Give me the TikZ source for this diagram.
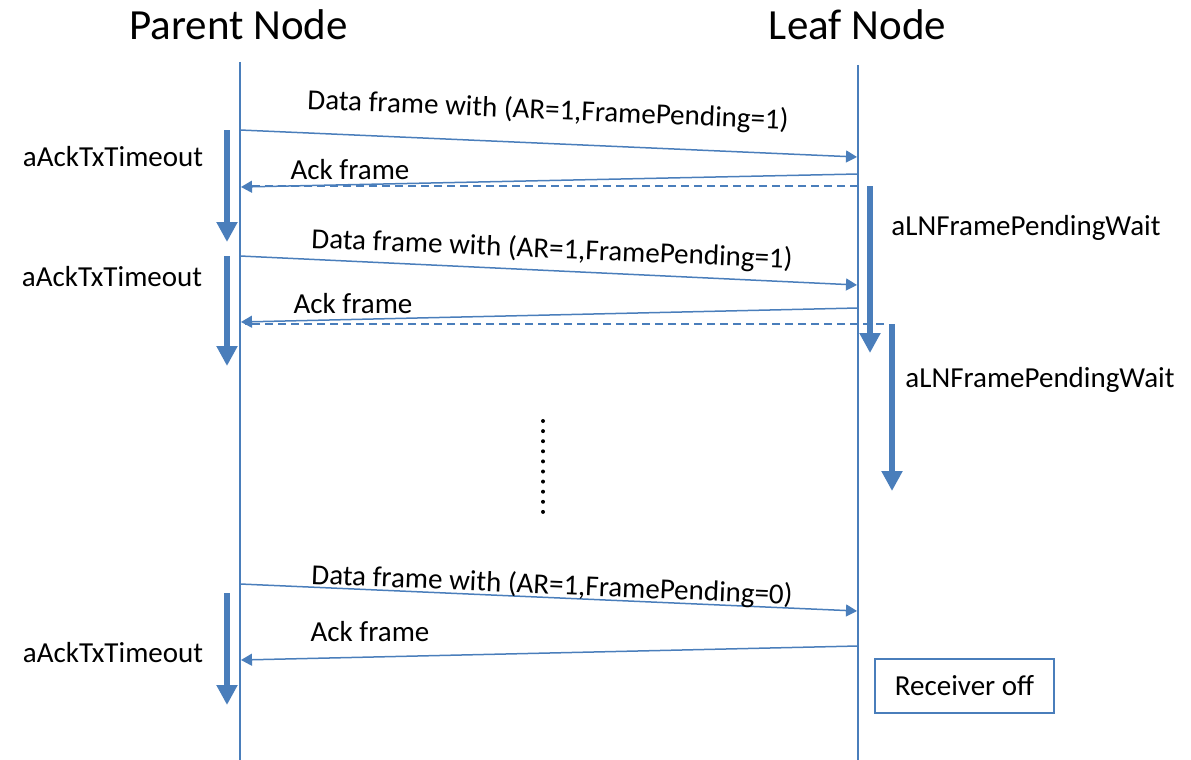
\documentclass[tikz,border=0pt]{standalone}
\usepackage{fontspec}
\setmainfont{Carlito}
\usetikzlibrary{arrows.meta}
\definecolor{seqblue}{HTML}{4A7EBB}
\tikzset{
  lifeline/.style={draw=seqblue, line width=1.3pt},
  msg/.style={draw=seqblue, line width=1.5pt, -{Triangle[length=11pt,width=12pt]}},
  msgdash/.style={draw=seqblue, line width=1.5pt, dash pattern=on 8pt off 5pt},
  timer/.style={draw=seqblue, line width=6pt, -{Triangle[length=20pt,width=20pt]}},
  title/.style={font=\fontsize{43}{50}\selectfont, anchor=base},
  lbl/.style={font=\fontsize{29}{34}\selectfont, inner sep=0pt},
  statebox/.style={draw=seqblue, line width=1.5pt, font=\fontsize{29}{34}\selectfont,
    minimum width=179pt, minimum height=54pt, inner sep=0pt},
  dotmark/.style={circle, fill=black, inner sep=0pt, minimum size=4pt}
}
\begin{document}
\begin{tikzpicture}[x=1pt,y=-1pt]
\useasboundingbox (0,0) rectangle (1191,760);

% participants
\node[title] (parent) at (238.5,40) {Parent Node};
\node[title] (leaf) at (857.5,40) {Leaf Node};

% lifelines
\coordinate (pTop) at (240,62);
\coordinate (pBot) at (240,760);
\coordinate (lTop) at (858,65);
\coordinate (lBot) at (858,760);
\draw[lifeline] (pTop) -- (pBot);
\draw[lifeline] (lTop) -- (lBot);

% message end points on the lifelines
\coordinate (d1s) at (240,130);  \coordinate (d1e) at (857,157);
\coordinate (a1s) at (858,174);  \coordinate (a1e) at (241,187);
\coordinate (k1s) at (858,186);  \coordinate (k1e) at (245,186);
\coordinate (d2s) at (240,256);  \coordinate (d2e) at (857,285);
\coordinate (a2s) at (858,308);  \coordinate (a2e) at (241,322);
\coordinate (k2s) at (884,324);  \coordinate (k2e) at (245,324);
\coordinate (d3s) at (240,584);  \coordinate (d3e) at (857,611);
\coordinate (a3s) at (858,646);  \coordinate (a3e) at (241,660);

% first exchange
\draw[msg] (d1s) -- (d1e);
\node[lbl, rotate=-2.4] (dl1) at (548,111) {Data frame with (AR=1,FramePending=1)};
\draw[msgdash] (k1s) -- (k1e);
\draw[msg] (a1s) -- (a1e);
\node[lbl] (al1) at (350,170) {Ack frame};

% second exchange
\draw[msg] (d2s) -- (d2e);
\node[lbl, rotate=-2.4] (dl2) at (552,250) {Data frame with (AR=1,FramePending=1)};
\draw[msgdash] (k2s) -- (k2e);
\draw[msg] (a2s) -- (a2e);
\node[lbl] (al2) at (353,304) {Ack frame};

% last exchange
\draw[msg] (d3s) -- (d3e);
\node[lbl, rotate=-2.4] (dl3) at (552,586) {Data frame with (AR=1,FramePending=0)};
\draw[msg] (a3s) -- (a3e);
\node[lbl] (al3) at (370,632) {Ack frame};

% parent timers
\coordinate (t1s) at (227,130); \coordinate (t1e) at (227,242);
\coordinate (t2s) at (227,256); \coordinate (t2e) at (227,366);
\coordinate (t3s) at (227,593); \coordinate (t3e) at (227,705);
\draw[timer] (t1s) -- (t1e);
\draw[timer] (t2s) -- (t2e);
\draw[timer] (t3s) -- (t3e);
\node[lbl] (tl1) at (113,157) {aAckTxTimeout};
\node[lbl] (tl2) at (112,277) {aAckTxTimeout};
\node[lbl] (tl3) at (113,653) {aAckTxTimeout};

% leaf timers
\coordinate (w1s) at (870,186); \coordinate (w1e) at (870,353);
\coordinate (w2s) at (892,324); \coordinate (w2e) at (892,491);
\draw[timer] (w1s) -- (w1e);
\draw[timer] (w2s) -- (w2e);
\node[lbl] (wl1) at (1026,228) {aLNFramePendingWait};
\node[lbl] (wl2) at (1040,380) {aLNFramePendingWait};

% ellipsis
\foreach \i in {0,...,9} {
  \node[dotmark] (dot\i) at (543,{421+10.1*\i}) {};
}

% receiver state
\node[statebox] (rxoff) at (964.5,686) {Receiver off};
\end{tikzpicture}
\end{document}
